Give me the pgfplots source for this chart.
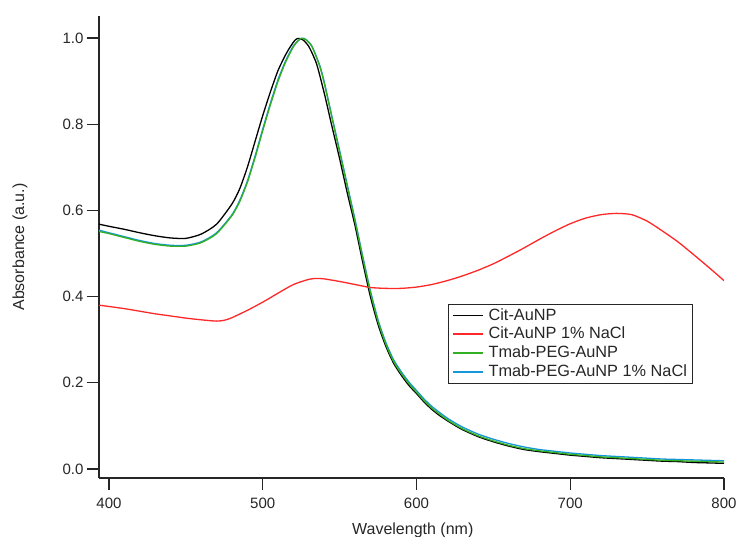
\documentclass[border=0pt]{standalone}
\usepackage{fontspec}
\setmainfont{Liberation Sans}
\usepackage{pgfplots}
\pgfplotsset{compat=1.18}
\definecolor{cred}{RGB}{255,40,40}
\definecolor{cgreen}{RGB}{50,175,35}
\definecolor{cblue}{RGB}{20,150,215}
\begin{document}
\begin{tikzpicture}
\useasboundingbox (-99pt,-59pt) rectangle (641pt,478pt);
\begin{axis}[
  scale only axis,
  width=625pt, height=462pt,
  xmin=393.5, xmax=800,
  ymin=-0.021, ymax=1.051,
  axis lines*=left,
  axis line style={line width=1.2pt, black!85},
  every tick/.style={line width=1.2pt, black!85},
  tick align=outside,
  major tick length=12pt,
  xtick={400,500,600,700,800},
  ytick={0,0.2,0.4,0.6,0.8,1.0},
  /pgf/number format/assume math mode=true,
  ticklabel style={font=\fontsize{15}{18}\selectfont, text=black!85},
  yticklabel style={/pgf/number format/.cd, fixed, fixed zerofill, precision=1},
  xticklabel style={yshift=-4pt},
  xlabel={Wavelength (nm)},
  ylabel={Absorbance (a.u.)},
  label style={font=\fontsize{16}{19}\selectfont, text=black!85},
  xlabel style={at={(axis description cs:0.502,-0.1126)}, anchor=center},
  ylabel style={at={(axis description cs:-0.1264,0.5)}, anchor=center},
  legend cell align=left,
  legend style={at={(0.5584,0.3766)}, anchor=north west, draw=black!85, line width=1pt,
    font=\fontsize{16.3}{19}\selectfont, inner xsep=4pt, inner ysep=2.5pt, row sep=1pt,
    nodes={inner sep=1.5pt, text height=11.5pt, text depth=3.3pt, text=black!85},
    /tikz/every odd column/.append style={column sep=3pt}},
  every axis plot/.append style={line width=1.3pt, smooth, tension=0.4},
]
\addlegendimage{legend image code/.code={\draw[draw=black, line width=1.6pt] (2pt,0.5pt) -- (32pt,0.5pt);}}
\addlegendentry{Cit-AuNP}
\addlegendimage{legend image code/.code={\draw[draw=cred, line width=1.6pt] (2pt,0.5pt) -- (32pt,0.5pt);}}
\addlegendentry{Cit-AuNP 1\% NaCl}
\addlegendimage{legend image code/.code={\draw[draw=cgreen, line width=1.6pt] (2pt,0.5pt) -- (32pt,0.5pt);}}
\addlegendentry{Tmab-PEG-AuNP}
\addlegendimage{legend image code/.code={\draw[draw=cblue, line width=1.6pt] (2pt,0.5pt) -- (32pt,0.5pt);}}
\addlegendentry{Tmab-PEG-AuNP 1\% NaCl}

% Tmab-PEG-AuNP 1% NaCl
\addplot[color=cblue, forget plot] coordinates {
(393.5,0.554)(400,0.548)(410,0.539)(420,0.530)(430,0.523)(440,0.519)(450,0.519)
(460,0.527)(470,0.548)(480,0.590)(485,0.623)(490,0.668)(495,0.726)(500,0.789)
(505,0.849)(510,0.904)(515,0.948)(520,0.982)(525,0.999)(528,0.997)(532,0.981)
(537,0.937)(540,0.898)(545,0.818)(550,0.739)(555,0.659)(560,0.579)(565,0.494)
(570,0.414)(575,0.346)(580,0.294)(585,0.254)(590,0.226)(595,0.202)(600,0.182)
(605,0.162)(610,0.145)(615,0.131)(620,0.118)(625,0.107)(630,0.097)(640,0.081)
(650,0.069)(660,0.059)(670,0.051)(680,0.045)(690,0.041)(700,0.037)(710,0.034)
(720,0.031)(730,0.029)(740,0.027)(750,0.025)(760,0.023)(770,0.022)(780,0.021)
(790,0.020)(800,0.019)
};
% Cit-AuNP
\addplot[color=black, forget plot] coordinates {
(393.5,0.568)(400,0.563)(410,0.556)(420,0.548)(430,0.541)(440,0.536)(450,0.535)
(460,0.545)(470,0.568)(480,0.615)(485,0.650)(490,0.700)(495,0.760)(500,0.820)
(505,0.875)(510,0.925)(515,0.962)(518,0.980)(521,0.995)(523,0.999)(526,0.996)
(530,0.980)(535,0.940)(540,0.872)(545,0.795)(550,0.720)(555,0.640)(560,0.565)
(565,0.480)(570,0.400)(575,0.335)(580,0.285)(585,0.246)(590,0.218)(595,0.194)
(600,0.175)(605,0.155)(610,0.138)(615,0.124)(620,0.112)(625,0.101)(630,0.091)
(640,0.075)(650,0.063)(660,0.053)(670,0.045)(680,0.040)(690,0.036)(700,0.032)
(710,0.029)(720,0.026)(730,0.024)(740,0.022)(750,0.020)(760,0.018)(770,0.017)
(780,0.015)(790,0.014)(800,0.013)
};
% Cit-AuNP 1% NaCl
\addplot[color=cred, forget plot] coordinates {
(393.5,0.380)(400,0.377)(410,0.372)(420,0.366)(430,0.360)(440,0.355)(450,0.350)
(460,0.346)(470,0.343)(475,0.345)(480,0.351)(490,0.368)(500,0.387)(510,0.408)
(520,0.428)(530,0.440)(535,0.442)(540,0.441)(550,0.435)(560,0.428)(570,0.421)
(580,0.419)(590,0.419)(600,0.422)(610,0.428)(620,0.437)(630,0.448)(640,0.461)
(650,0.476)(660,0.494)(670,0.513)(680,0.533)(690,0.552)(700,0.569)(710,0.582)
(720,0.590)(730,0.593)(740,0.590)(750,0.575)(760,0.552)(770,0.527)(780,0.498)
(790,0.468)(800,0.437)
};
% Tmab-PEG-AuNP
\addplot[color=cgreen, forget plot] coordinates {
(393.5,0.551)(400,0.546)(410,0.537)(420,0.528)(430,0.521)(440,0.517)(450,0.517)
(460,0.525)(470,0.546)(480,0.588)(485,0.620)(490,0.665)(495,0.722)(500,0.785)
(505,0.845)(510,0.900)(515,0.945)(520,0.980)(523,0.994)(525,0.999)(528,0.996)
(532,0.980)(537,0.935)(540,0.895)(545,0.815)(550,0.735)(555,0.655)(560,0.575)
(565,0.490)(570,0.410)(575,0.342)(580,0.290)(585,0.250)(590,0.222)(595,0.198)
(600,0.178)(605,0.158)(610,0.141)(615,0.127)(620,0.114)(625,0.103)(630,0.093)
(640,0.077)(650,0.065)(660,0.055)(670,0.047)(680,0.042)(690,0.038)(700,0.034)
(710,0.031)(720,0.028)(730,0.026)(740,0.024)(750,0.022)(760,0.020)(770,0.019)
(780,0.018)(790,0.017)(800,0.016)
};
\end{axis}
\end{tikzpicture}
\end{document}
